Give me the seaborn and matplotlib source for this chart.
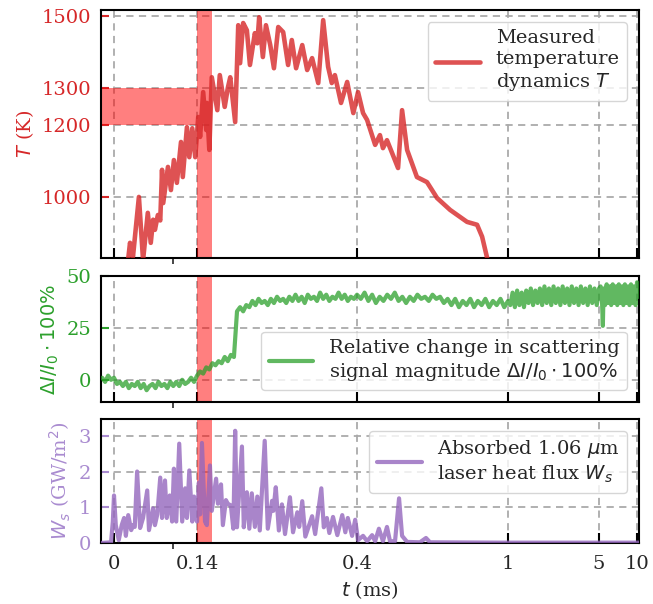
import numpy as np
import pandas as pd
import matplotlib
matplotlib.use("Agg")
import matplotlib.pyplot as plt
import seaborn as sns

# values, time in ms
temp_t = [0.022, 0.027, 0.032, 0.042, 0.049, 0.057, 0.062, 0.066, 0.069, 0.074,
          0.078, 0.081, 0.083, 0.091, 0.096, 0.101, 0.106, 0.113, 0.116, 0.123,
          0.127, 0.132, 0.137, 0.142, 0.145, 0.150, 0.155, 0.156, 0.160, 0.164,
          0.173, 0.177, 0.185, 0.190, 0.194, 0.202, 0.207, 0.210, 0.215, 0.221,
          0.226, 0.234, 0.238, 0.241, 0.247, 0.252, 0.259, 0.265, 0.272, 0.280,
          0.288, 0.294, 0.301, 0.311, 0.319, 0.327, 0.337, 0.345, 0.353, 0.359,
          0.364, 0.374, 0.384, 0.394, 0.404, 0.424, 0.440, 0.472, 0.491, 0.503,
          0.519, 0.563, 0.579, 0.599, 0.638, 0.678, 0.718, 0.770, 0.837, 0.877,
          0.897, 0.916, 0.928]
temp_k = [800, 873, 835, 1000, 825, 956, 873, 937, 909, 950,
          935, 1075, 983, 1083, 1019, 1102, 1039, 1152, 1055, 1193,
          1110, 1190, 1110, 1221, 1166, 1290, 1185, 1260, 1130, 1331,
          1240, 1337, 1249, 1301, 1331, 1207, 1475, 1370, 1481, 1461,
          1365, 1453, 1425, 1497, 1387, 1475, 1420, 1356, 1470, 1456,
          1365, 1434, 1356, 1420, 1351, 1384, 1315, 1489, 1360, 1315,
          1337, 1260, 1318, 1232, 1290, 1232, 1213, 1144, 1171, 1135,
          1157, 1080, 1240, 1130, 1055, 1041, 997, 964, 931, 923,
          890, 834, 800]

scat_t = [-0.02, -0.015, -0.01, -0.005, 0.0, 0.005, 0.01, 0.015, 0.02, 0.025,
          0.03, 0.035, 0.04, 0.045, 0.05, 0.055, 0.06, 0.065, 0.07, 0.075,
          0.08, 0.085, 0.09, 0.095, 0.1, 0.105, 0.11, 0.115, 0.12, 0.125,
          0.13, 0.135, 0.14,
          0.145, 0.15, 0.155, 0.16, 0.165, 0.17, 0.175, 0.18, 0.185, 0.19,
          0.195, 0.2, 0.205, 0.21, 0.215, 0.22, 0.225, 0.23, 0.235, 0.24,
          0.245, 0.25, 0.255, 0.26, 0.265, 0.27, 0.275, 0.28, 0.285, 0.29,
          0.295, 0.3, 0.305, 0.31, 0.315, 0.32, 0.325, 0.33, 0.335, 0.34,
          0.345, 0.35, 0.355, 0.36, 0.365, 0.37, 0.375, 0.38, 0.385, 0.39,
          0.395, 0.4,
          0.415, 0.43, 0.445, 0.46, 0.475, 0.49, 0.505, 0.52, 0.535, 0.55,
          0.565, 0.58, 0.595, 0.61, 0.625, 0.64, 0.655, 0.67, 0.685, 0.7,
          0.715, 0.73, 0.745, 0.76, 0.775, 0.79, 0.805, 0.82, 0.835, 0.85,
          0.865, 0.88, 0.895, 0.91, 0.925, 0.94, 0.955, 0.97, 0.985, 1.0,
          1.1, 1.2, 1.3, 1.4, 1.5, 1.6, 1.7, 1.8, 1.9, 2.0,
          2.1, 2.2, 2.3, 2.4, 2.5, 2.6, 2.7, 2.8, 2.9, 3.0,
          3.1, 3.2, 3.3, 3.4, 3.5, 3.6, 3.7, 3.8, 3.9, 4.0,
          4.1, 4.2, 4.3, 4.4, 4.5, 4.6, 4.7, 4.8, 4.9, 5.0,
          5.2, 5.4, 5.5, 5.6, 5.8, 6.0, 6.2, 6.4, 6.6, 6.8,
          7.0, 7.2, 7.4, 7.6, 7.8, 8.0, 8.2, 8.4, 8.6, 8.8,
          9.0, 9.2, 9.4, 9.6, 9.8, 10.0, 10.2]
scat_v = [1, -1, 2, 0, 1, -2, -1, -3, -1, -4,
          -2, -3, -1, -4, -2, -5, -3, -2, -4, -1,
          -3, -2, -4, -1, -3, -1, -3, 0, -2, -1,
          1, -1, 2,
          4, 3, 6, 5, 8, 7, 9, 8, 11, 9,
          12, 11, 33, 35, 33, 36, 35, 38, 36, 39,
          37, 38, 36, 39, 37, 40, 38, 39, 37, 40,
          38, 41, 38, 40, 37, 41, 39, 40, 38, 42,
          39, 41, 38, 40, 39, 42, 39, 41, 38, 40,
          39, 41,
          39, 42, 38, 41, 37, 40, 38, 41, 39, 42,
          38, 40, 37, 40, 38, 41, 39, 40, 38, 41,
          39, 40, 37, 39, 36, 39, 35, 38, 36, 39,
          35, 38, 36, 39, 35, 38, 36, 39, 35, 38,
          36, 42, 35, 43, 36, 42, 35, 43, 37, 44,
          36, 43, 37, 44, 36, 45, 37, 44, 36, 45,
          37, 44, 36, 45, 37, 44, 36, 45, 37, 44,
          36, 45, 37, 44, 36, 45, 37, 44, 36, 44,
          45, 37, 26, 44, 36, 46, 37, 45, 36, 46,
          37, 45, 36, 46, 37, 45, 36, 46, 37, 45,
          36, 46, 37, 45, 36, 47, 40]

flux_t = [-0.022, -0.005, -0.002, 0.0, 0.003, 0.008, 0.013, 0.017, 0.020, 0.024,
          0.029, 0.032, 0.035, 0.039, 0.044, 0.049, 0.056, 0.059, 0.066, 0.069,
          0.073, 0.078, 0.081, 0.086, 0.089, 0.094, 0.098, 0.101, 0.105, 0.110,
          0.115, 0.120, 0.123, 0.127, 0.132, 0.135, 0.140, 0.143, 0.145, 0.148,
          0.153, 0.156, 0.161, 0.164, 0.171, 0.174, 0.179, 0.182, 0.187, 0.190,
          0.195, 0.199, 0.202, 0.205, 0.213, 0.216, 0.221, 0.225, 0.229, 0.234,
          0.238, 0.242, 0.250, 0.255, 0.262, 0.264, 0.268, 0.273, 0.278, 0.283,
          0.291, 0.296, 0.303, 0.306, 0.311, 0.316, 0.327, 0.332, 0.342, 0.346,
          0.351, 0.355, 0.361, 0.368, 0.376, 0.381, 0.385, 0.392, 0.397, 0.404,
          0.424, 0.440, 0.460, 0.472, 0.487, 0.503, 0.519, 0.531, 0.551, 0.567,
          0.579, 0.599, 0.650, 0.674, 0.690, 0.972, 2.0, 10.3]
flux_w = [0.0, 0.02, 0.6, 1.33, 0.5, 0.08, 0.5, 0.7, 0.2, 0.78,
          0.36, 0.5, 0.45, 2.0, 0.42, 0.7, 1.47, 0.36, 0.97, 0.5,
          0.8, 1.83, 0.7, 1.75, 0.7, 1.33, 0.6, 2.08, 0.6, 2.78,
          0.6, 1.53, 0.7, 2.03, 0.6, 1.3, 0.6, 1.69, 0.8, 2.8,
          0.6, 0.5, 2.17, 0.9, 1.8, 1.1, 1.64, 0.5, 1.2, 1.1,
          1.05, 0.4, 3.14, 0.44, 2.7, 0.44, 1.42, 0.4, 1.39, 0.45,
          1.3, 0.35, 2.86, 0.4, 1.18, 0.9, 1.56, 0.35, 1.08, 0.25,
          1.28, 0.3, 0.86, 0.45, 1.17, 0.18, 0.75, 0.25, 1.53, 0.44,
          0.7, 0.28, 0.73, 0.22, 0.78, 0.3, 0.7, 0.2, 0.65, 0.08,
          0.2, 0.05, 0.22, 0.05, 0.4, 0.05, 0.45, 0.05, 0.05, 1.25,
          0.2, 0.03, 0.02, 0.14, 0.02, 0.01, 0.01, 0.01]

tick_t = [0, 0.14, 0.4, 1, 5, 10]
tick_labels = ["0", "0.14", "0.4", "1", "5", "10"]
band_t = (0.14, 0.164)
band_k = (1200, 1300)

# the time axis is stretched piecewise: knots of t and where they land
scale_t = [-1, 0, 0.14, 0.4, 1, 5, 10, 20]
scale_u = [-479, 114, 197, 357, 508, 599, 637, 713]


def fwd(t):
    return np.interp(t, scale_t, scale_u)


def inv(u):
    return np.interp(u, scale_u, scale_t)


sns.set_style("ticks")
plt.rcParams["font.family"] = "serif"
plt.rcParams["font.serif"] = ["DejaVu Serif"]
plt.rcParams["mathtext.fontset"] = "dejavusans"

fs = 14

fig = plt.figure(figsize=(6.53, 6.04), dpi=100)
ax1 = fig.add_axes([0.1547, 0.5728, 0.8239, 0.4106])
ax2 = fig.add_axes([0.1547, 0.3344, 0.8239, 0.2086], sharex=ax1)
ax3 = fig.add_axes([0.1547, 0.1010, 0.8239, 0.2053], sharex=ax1)

df_T = pd.DataFrame({"t": temp_t, "T": temp_k})
df_S = pd.DataFrame({"t": scat_t, "S": scat_v})
df_W = pd.DataFrame({"t": flux_t, "W": flux_w})

sns.lineplot(data=df_T, x="t", y="T", ax=ax1, color="tab:red", alpha=0.8,
             linewidth=3.3, label="Measured\ntemperature\ndynamics $T$", zorder=3)
sns.lineplot(data=df_S, x="t", y="S", ax=ax2, color="tab:green", alpha=0.75,
             linewidth=3, zorder=3,
             label="Relative change in scattering\nsignal magnitude $\\Delta I/I_0\\cdot100\\%$")
sns.lineplot(data=df_W, x="t", y="W", ax=ax3, color="tab:purple", alpha=0.8,
             linewidth=3, zorder=3,
             label="Absorbed 1.06 $\\mu$m\nlaser heat flux $W_s$")

ax1.fill_between([-0.05, band_t[0]], band_k[0], band_k[1], color="red",
                 alpha=0.5, lw=0, zorder=1)

colors = ["tab:red", "tab:green", "#a98bd0"]
ylabels = ["$T$ (K)", "$\\Delta I/I_0\\cdot100\\%$", "$W_s$ (GW/m$^2$)"]
yticks = [[1000, 1200, 1300, 1500], [0, 25, 50], [0, 1, 2, 3]]
ylims = [(831, 1517), (-10.7, 50), (0, 3.47)]
locs = ["upper right", "lower right", "upper right"]

for ax, c, yl, yt, lim, loc in zip([ax1, ax2, ax3], colors, ylabels, yticks, ylims, locs):
    ax.set_xscale("function", functions=(fwd, inv))
    ax.axvspan(band_t[0], band_t[1], color="red", alpha=0.5, lw=0, zorder=1)
    ax.set_yticks(yt)
    ax.set_ylim(*lim)
    ax.set_ylabel(yl, color=c, fontsize=fs)
    ax.tick_params(axis="y", colors=c, direction="in", length=6, width=1.5,
                   labelsize=fs, pad=7)
    ax.tick_params(axis="x", which="major", direction="in", length=7, width=1.5,
                   labelsize=fs, color="black", pad=9)
    ax.set_xticks(tick_t)
    ax.set_xticks([0.1], minor=True)
    ax.tick_params(axis="x", which="minor", direction="out", length=4, width=1.2)
    ax.grid(True, which="major", ls=(0, (4, 3)), color="#aaaaaa", lw=1.3, zorder=0)
    for sp in ax.spines.values():
        sp.set_linewidth(1.5)
        sp.set_color("black")
    leg = ax.legend(loc=loc, fontsize=fs, handlelength=2.3, borderaxespad=0.6)
    for txt in leg.get_texts():
        txt.set_multialignment("left")
    ax.set_xlabel("")

ax1.set_xlim(-0.0219, 10.26)
ax1.tick_params(axis="x", labelbottom=False)
ax2.tick_params(axis="x", labelbottom=False)
ax3.set_xticklabels(tick_labels)
ax3.set_xlabel("$t$ (ms)", fontsize=fs)

fig.savefig("out.png", dpi=100)
